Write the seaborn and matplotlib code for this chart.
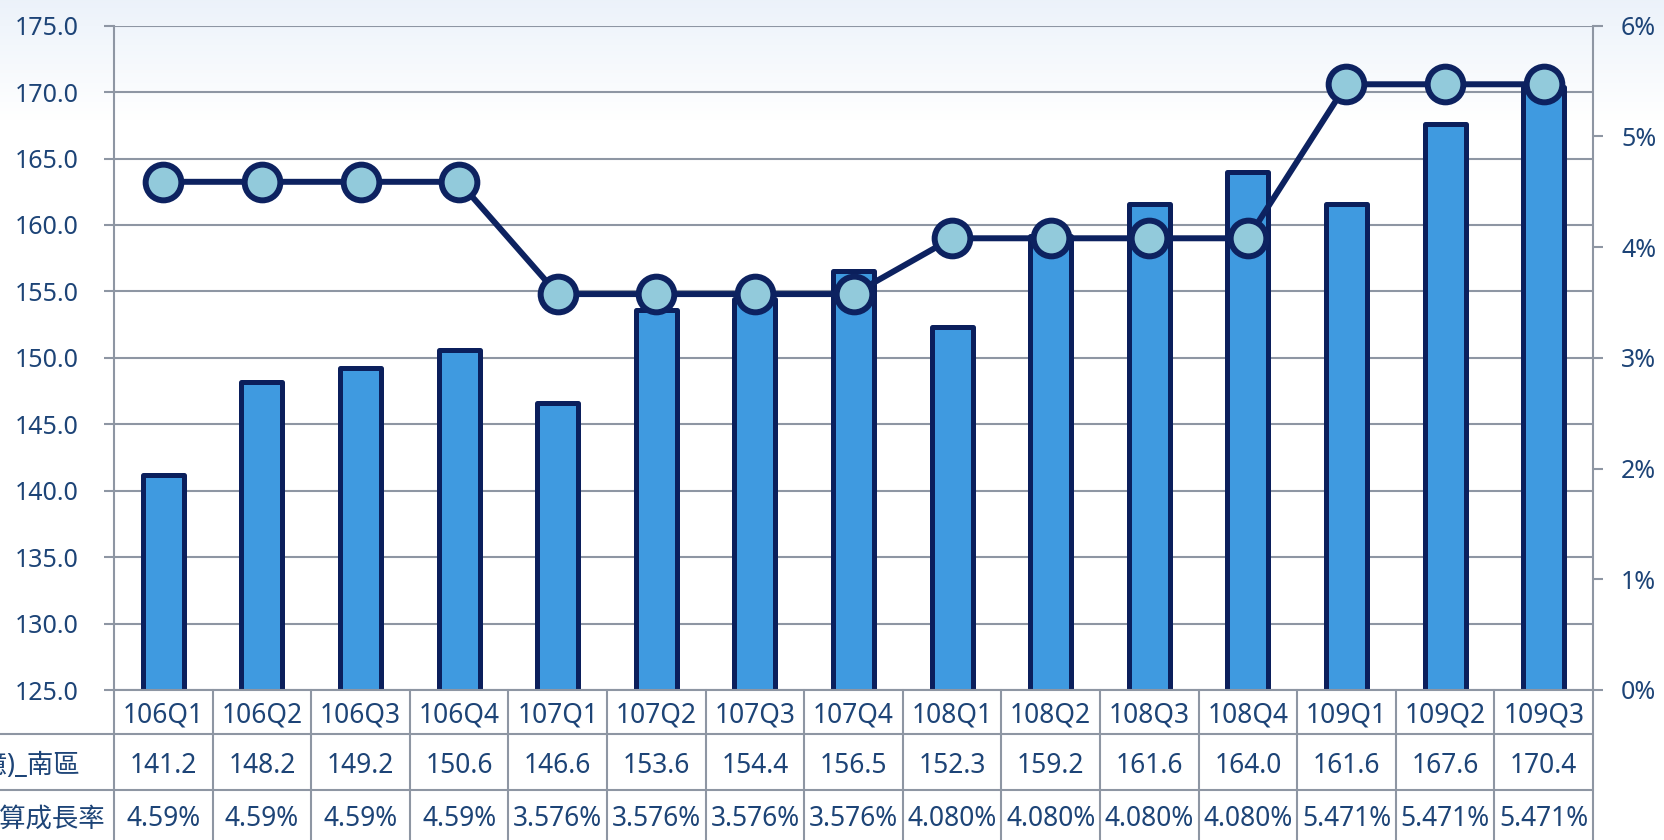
import numpy as np
import matplotlib
matplotlib.use("Agg")
import matplotlib.pyplot as plt
import seaborn as sns
from matplotlib.lines import Line2D
from matplotlib.transforms import blended_transform_factory
from matplotlib.ticker import FuncFormatter

# data
quarters = ["106Q1", "106Q2", "106Q3", "106Q4", "107Q1", "107Q2", "107Q3", "107Q4",
            "108Q1", "108Q2", "108Q3", "108Q4", "109Q1", "109Q2", "109Q3"]
revenue = [141.2, 148.2, 149.2, 150.6, 146.6, 153.6, 154.4, 156.5,
           152.3, 159.2, 161.6, 164.0, 161.6, 167.6, 170.4]
growth = [4.59, 4.59, 4.59, 4.59, 3.576, 3.576, 3.576, 3.576,
          4.080, 4.080, 4.080, 4.080, 5.471, 5.471, 5.471]
growth_labels = ["4.59%", "4.59%", "4.59%", "4.59%", "3.576%", "3.576%", "3.576%", "3.576%",
                 "4.080%", "4.080%", "4.080%", "4.080%", "5.471%", "5.471%", "5.471%"]
row_names = ["營收(億)_南區", "年化換算成長率"]
left_ticks = [125, 130, 135, 140, 145, 150, 155, 160, 165, 170, 175]
right_ticks = [0, 1, 2, 3, 4, 5, 6]

BAR = "#3f9ae0"
EDGE = "#0b1f5c"
LINE = "#0d2260"
MARKER = "#92cadb"
GRID = "#8e96a3"
TXT = "#1d4477"

sns.set_theme(style="white")
plt.rcParams["font.family"] = ["Noto Sans", "Noto Sans CJK TC"]

W, H = 1664, 840
fig = plt.figure(figsize=(W / 100, H / 100), dpi=100)


def fy(y_px):
    return 1 - y_px / H


# faint blue wash at the top of the picture
bg = fig.add_axes([0, 0, 1, 1], zorder=-10)
fade = np.clip(np.arange(H) / 120.0, 0, 1)[:, None, None]
top = np.array([0.925, 0.95, 0.98])
bg.imshow(top + (1 - top) * fade * np.ones((H, 1, 3)), aspect="auto", extent=[0, 1, 0, 1])
bg.axis("off")

ax = fig.add_axes([114 / W, fy(690), (1593 - 114) / W, (690 - 25.7) / H])
ax.patch.set_alpha(0)

sns.barplot(x=quarters, y=revenue, ax=ax, color=BAR, saturation=1,
            edgecolor=EDGE, linewidth=3.6, width=0.415)
for bar in ax.patches:
    bar.set_joinstyle("round")
ax.set_ylim(125, 175)
ax.set_xlim(-0.5, len(quarters) - 0.5)
ax.set_yticks(left_ticks)
ax.yaxis.set_major_formatter(FuncFormatter(lambda v, p: f"{v:.1f}"))
ax.yaxis.grid(True, color=GRID, linewidth=1.5)
ax.set_axisbelow(True)
ax.set_xlabel("")
ax.set_ylabel("")
ax.tick_params(axis="x", bottom=False, labelbottom=False)
ax.tick_params(axis="y", left=True, length=7.2, width=1.5, color=GRID,
               pad=18.5, labelsize=18, labelcolor=TXT)
for side in ["left", "bottom"]:
    ax.spines[side].set_color(GRID)
    ax.spines[side].set_linewidth(1.5)
ax.spines["top"].set_visible(False)
ax.spines["right"].set_visible(False)

ax2 = ax.twinx()
sns.lineplot(x=np.arange(len(quarters)), y=growth, ax=ax2, color=LINE, linewidth=4.3,
             marker="o", markersize=25.7, markerfacecolor=MARKER,
             markeredgecolor=LINE, markeredgewidth=4.3)
ax2.set_ylim(0, 6)
ax2.set_xlim(-0.5, len(quarters) - 0.5)
ax2.set_yticks(right_ticks)
ax2.yaxis.set_major_formatter(FuncFormatter(lambda v, p: f"{v:.0f}%"))
ax2.set_ylabel("")
ax2.grid(False)
ax2.tick_params(axis="y", right=True, length=7.2, width=1.5, color=GRID,
                pad=13, labelsize=18, labelcolor=TXT)
for side in ["left", "top", "bottom"]:
    ax2.spines[side].set_visible(False)
ax2.spines["right"].set_color(GRID)
ax2.spines["right"].set_linewidth(1.5)

# data table under the chart
blend = blended_transform_factory(ax.transData, fig.transFigure)
for i, q in enumerate(quarters):
    ax.text(i, fy(722.5), q, transform=blend, ha="center", va="baseline",
            fontsize=19, color=TXT, clip_on=False)
    ax.text(i, fy(773.3), f"{revenue[i]:.1f}", transform=blend, ha="center", va="baseline",
            fontsize=19, color=TXT, clip_on=False)
    ax.text(i, fy(826.5), growth_labels[i], transform=blend, ha="center", va="baseline",
            fontsize=19, color=TXT, clip_on=False)

for k in range(len(quarters) + 1):
    fig.add_artist(Line2D([k - 0.5, k - 0.5], [fy(690), 0], transform=blend,
                          color=GRID, linewidth=1.5))
for y in [734, 790]:
    fig.add_artist(Line2D([0, 1593 / W], [fy(y), fy(y)], transform=fig.transFigure,
                          color=GRID, linewidth=1.5))

# row titles run off the left edge, as in the source image
fig.text(80 / W, fy(773.3), row_names[0], ha="right", va="baseline", fontsize=19, color=TXT)
fig.text(105 / W, fy(826.5), row_names[1], ha="right", va="baseline", fontsize=19, color=TXT)

fig.savefig("out.png", dpi=100)
